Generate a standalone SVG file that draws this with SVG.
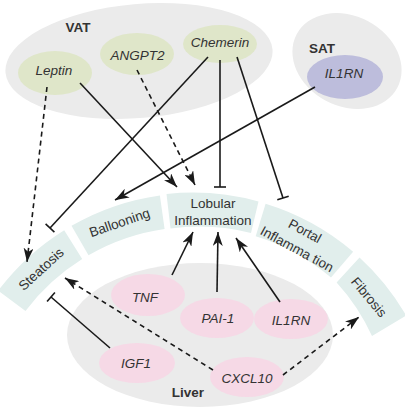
<svg xmlns="http://www.w3.org/2000/svg" width="405" height="414" viewBox="0 0 405 414">
<defs>
<style>
.grp{fill:#ebebeb}
.vat{fill:#dfe6c9}
.sat{fill:#bdbddc}
.liv{fill:#f6d9e6}
.seg{fill:#e1eeec}
.lbl{font-family:"Liberation Sans",Arial,sans-serif;font-size:13.5px;font-weight:bold;fill:#333;text-anchor:middle}
.nt{font-family:"Liberation Sans",Arial,sans-serif;font-size:13.5px;font-style:italic;fill:#333;text-anchor:middle}
.st{font-family:"Liberation Sans",Arial,sans-serif;font-size:13.5px;fill:#333;text-anchor:middle}
.ln{stroke:#1a1a1a;stroke-width:1.6;fill:none}
.dash{stroke-dasharray:5 4}
.arr{marker-end:url(#ah)}
.tb{marker-end:url(#tbar)}
</style>
<marker id="ah" viewBox="0 0 14 10" refX="14" refY="5" markerWidth="14" markerHeight="10" markerUnits="userSpaceOnUse" orient="auto">
<path d="M0,0 L14,5 L0,10 L4,5 Z" fill="#1a1a1a"/>
</marker>
<marker id="tbar" viewBox="-2 -7 4 14" refX="0" refY="0" markerWidth="4" markerHeight="14" markerUnits="userSpaceOnUse" orient="auto">
<line x1="0" y1="-6" x2="0" y2="6" stroke="#1a1a1a" stroke-width="1.6"/>
</marker>
</defs>
<rect width="405" height="414" fill="#ffffff"/>

<g id="vat">
<ellipse class="grp" cx="139" cy="61" rx="134" ry="57" transform="rotate(-5 139 61)"/>
<text class="lbl" x="78" y="32">VAT</text>
</g>
<g id="sat">
<ellipse class="grp" cx="347" cy="61" rx="57" ry="45" transform="rotate(28 347 61)"/>
<text class="lbl" x="322" y="53">SAT</text>
</g>
<g id="liver">
<ellipse class="grp" cx="200" cy="335" rx="133" ry="72" fill="#e8e8e8"/>
<text class="lbl" x="188" y="397">Liver</text>
</g>

<g id="steatosis">
<path class="seg" d="M-1.7,290.6 A245,245 0 0 1 64.2,230.2 L82.2,259.1 A211,211 0 0 0 25.5,311 Z"/>
<text class="st" transform="translate(41,269) rotate(-42.5)" y="4.7">Steatosis</text>
</g>
<g id="ballooning">
<path class="seg" d="M71.5,225.8 A245,245 0 0 1 159.9,195.4 L164.6,229 A211,211 0 0 0 88.5,255.3 Z"/>
<text class="st" transform="translate(119.5,222.5) rotate(-19)" y="4.7">Ballooning</text>
</g>
<g id="lobular">
<path class="seg" d="M166.5,194 A245,245 0 0 1 258.5,201.5 L251,233 A211,211 0 0 0 170.5,228.5 Z"/>
<text class="st" x="213" y="208">Lobular</text>
<text class="st" x="213" y="225">Inflammation</text>
</g>
<g id="portal">
<path class="seg" d="M265.6,203.7 A245,245 0 0 1 353.1,251.7 L331,277.6 A211,211 0 0 0 255.7,236.2 Z"/>
<text class="st" transform="translate(305,231) rotate(28.5)" y="4.7">Portal</text>
<text class="st" transform="translate(297,249) rotate(28.5)" y="4.7">Inflamma tion</text>
</g>
<g id="fibrosis">
<path class="seg" d="M359.5,257.4 A245,245 0 0 1 406.2,315.5 L372,336 A205,205 0 0 0 336.6,282.4 Z"/>
<text class="st" transform="translate(369,297) rotate(50)" y="4.7">Fibrosis</text>
</g>

<g id="leptin">
<ellipse class="vat" cx="55" cy="73" rx="37" ry="22"/>
<text class="nt" x="54" y="75">Leptin</text>
</g>
<g id="angpt2">
<ellipse class="vat" cx="137" cy="54" rx="37" ry="21"/>
<text class="nt" x="137.5" y="60">ANGPT2</text>
</g>
<g id="chemerin">
<ellipse class="vat" cx="220" cy="44" rx="37" ry="19"/>
<text class="nt" x="220" y="47">Chemerin</text>
</g>
<g id="il1rn-sat">
<ellipse class="sat" cx="345" cy="77" rx="38" ry="22"/>
<text class="nt" x="344" y="78">IL1RN</text>
</g>
<g id="tnf">
<ellipse class="liv" cx="148" cy="295" rx="37" ry="21"/>
<text class="nt" x="145" y="302">TNF</text>
</g>
<g id="pai1">
<ellipse class="liv" cx="217" cy="318" rx="37" ry="20"/>
<text class="nt" x="218" y="323">PAI-1</text>
</g>
<g id="il1rn-liver">
<ellipse class="liv" cx="291" cy="319" rx="37" ry="20"/>
<text class="nt" x="291" y="325">IL1RN</text>
</g>
<g id="igf1">
<ellipse class="liv" cx="137" cy="363" rx="38" ry="20"/>
<text class="nt" x="136" y="368">IGF1</text>
</g>
<g id="cxcl10">
<ellipse class="liv" cx="247" cy="377" rx="37" ry="20"/>
<text class="nt" x="247" y="383">CXCL10</text>
</g>

<g id="connectors">
<line class="ln dash arr" x1="47" y1="87" x2="27" y2="262"/>
<line class="ln arr" x1="80" y1="83" x2="177" y2="187"/>
<line class="ln dash arr" x1="137" y1="70" x2="195" y2="185"/>
<line class="ln tb" x1="208" y1="57" x2="50" y2="228"/>
<line class="ln tb" x1="220" y1="60" x2="220" y2="187"/>
<line class="ln tb" x1="237" y1="57" x2="283" y2="198"/>
<line class="ln arr" x1="315" y1="87" x2="115" y2="200"/>
<line class="ln arr" x1="172" y1="275" x2="193" y2="232"/>
<line class="ln arr" x1="217" y1="292" x2="218" y2="232"/>
<line class="ln arr" x1="280" y1="302" x2="236" y2="238"/>
<line class="ln tb" x1="110" y1="348" x2="51" y2="297"/>
<line class="ln dash arr" x1="213" y1="370" x2="65" y2="278"/>
<line class="ln dash arr" x1="283" y1="375" x2="359" y2="317"/>
</g>
</svg>
